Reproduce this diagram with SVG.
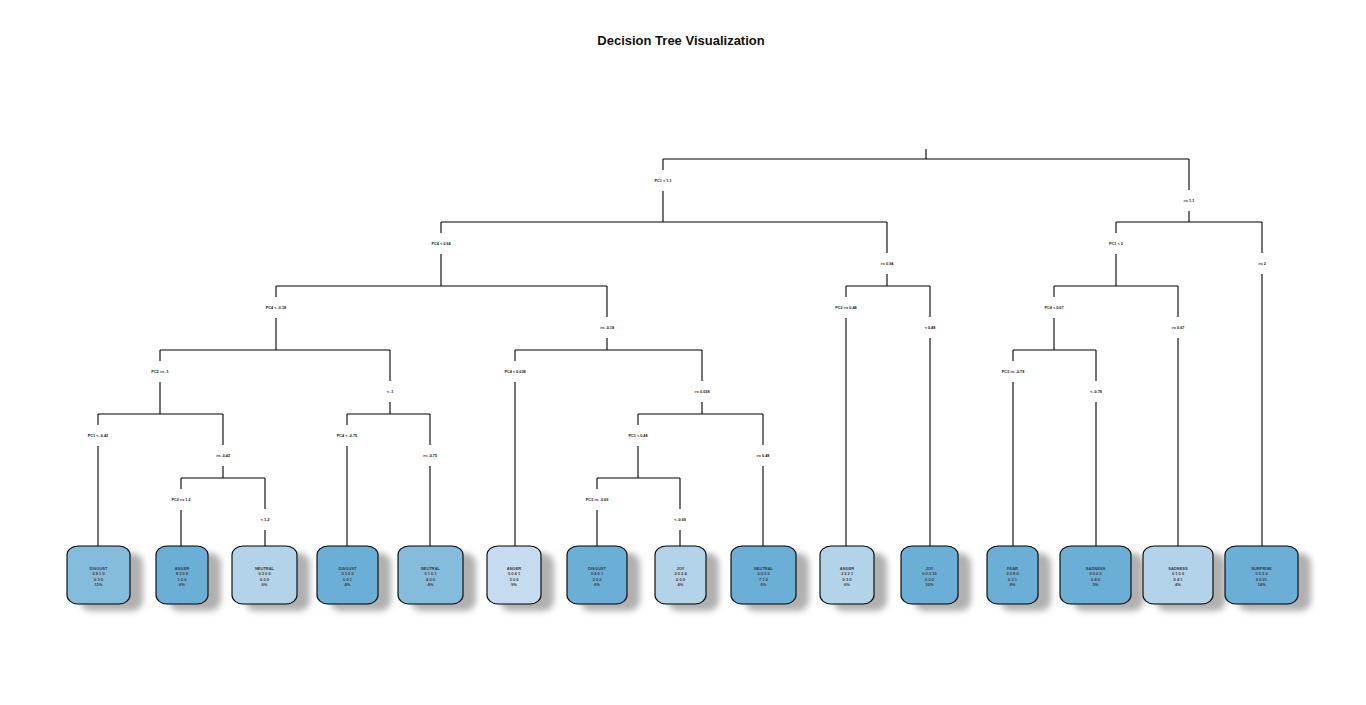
<svg xmlns="http://www.w3.org/2000/svg" width="1366" height="705" viewBox="0 0 1366 705">
<style>
.ln{stroke:#000;stroke-width:1.1;fill:none}
.sl{font-family:"Liberation Sans",Arial,sans-serif;font-size:3.8px;fill:#111;text-anchor:middle;font-weight:bold}
.lt{font-family:"Liberation Sans",Arial,sans-serif;font-size:4px;fill:#3a3a3a;text-anchor:middle;font-weight:bold}
.box{stroke:#000;stroke-width:1.1}
.sh{fill:#b0b0b0;filter:url(#blur)}
.c1{fill:#6baed6}.c2{fill:#85bcdc}.c3{fill:#b3d3e8}.c4{fill:#c6dbef}
.title{font-family:"Liberation Sans",Arial,sans-serif;font-size:13px;font-weight:bold;fill:#111;text-anchor:middle}
</style>
<defs><filter id="blur" x="-30%" y="-30%" width="160%" height="160%"><feGaussianBlur stdDeviation="3"/></filter></defs>
<rect width="1366" height="705" fill="#fff"/>
<text class="title" x="681" y="45">Decision Tree Visualization</text>
<g id="connectors">
<path class="ln" d="M926 149V159M663 159H1189
M663 159V170M663 191V222 M1189 159V190M1189 211V222
M441 222H887M1116 222H1262
M441 222V233M441 254V286 M887 222V253M887 274V286
M1116 222V233M1116 254V286 M1262 222V253M1262 274V546
M276 286H607M846 286H930M1054 286H1178
M276 286V297M276 318V350 M607 286V317M607 338V350
M846 286V297M846 318V546 M930 286V317M930 338V546
M1054 286V297M1054 318V350 M1178 286V317M1178 338V546
M160 350H390M515 350H702M1013 350H1096
M160 350V361M160 382V414 M390 350V381M390 402V414
M515 350V361M515 382V546 M702 350V381M702 402V414
M1013 350V361M1013 382V546 M1096 350V381M1096 402V546
M98 414H223M347 414H430M638 414H763
M98 414V425M98 446V546 M223 414V445M223 466V478
M347 414V425M347 446V546 M430 414V445M430 466V546
M638 414V425M638 446V478 M763 414V445M763 466V546
M181 478H265M597 478H680
M181 478V489M181 510V546 M265 478V509M265 530V546
M597 478V489M597 510V546 M680 478V509M680 530V546"/>
<text class="sl" x="663" y="182.4">PC1 &lt; 1.1</text>
<text class="sl" x="1189" y="202.4">&gt;= 1.1</text>
<text class="sl" x="441" y="245.4">PC4 &lt; 0.94</text>
<text class="sl" x="887" y="265.4">&gt;= 0.94</text>
<text class="sl" x="1116" y="245.4">PC1 &lt; 2</text>
<text class="sl" x="1262" y="265.4">&gt;= 2</text>
<text class="sl" x="276" y="309.4">PC4 &lt; -0.18</text>
<text class="sl" x="607" y="329.4">&gt;= -0.18</text>
<text class="sl" x="846" y="309.4">PC2 &gt;= 0.48</text>
<text class="sl" x="930" y="329.4">&lt; 0.48</text>
<text class="sl" x="1054" y="309.4">PC4 &lt; 0.67</text>
<text class="sl" x="1178" y="329.4">&gt;= 0.67</text>
<text class="sl" x="160" y="373.4">PC2 &gt;= -1</text>
<text class="sl" x="390" y="393.4">&lt; -1</text>
<text class="sl" x="515" y="373.4">PC4 &lt; 0.038</text>
<text class="sl" x="702" y="393.4">&gt;= 0.038</text>
<text class="sl" x="1013" y="373.4">PC3 &gt;= -0.78</text>
<text class="sl" x="1096" y="393.4">&lt; -0.78</text>
<text class="sl" x="98" y="437.4">PC1 &lt; -0.42</text>
<text class="sl" x="223" y="457.4">&gt;= -0.42</text>
<text class="sl" x="347" y="437.4">PC4 &lt; -0.75</text>
<text class="sl" x="430" y="457.4">&gt;= -0.75</text>
<text class="sl" x="638" y="437.4">PC1 &lt; 0.48</text>
<text class="sl" x="763" y="457.4">&gt;= 0.48</text>
<text class="sl" x="181" y="501.4">PC2 &gt;= 1.2</text>
<text class="sl" x="265" y="521.4">&lt; 1.2</text>
<text class="sl" x="597" y="501.4">PC3 &gt;= -0.69</text>
<text class="sl" x="680" y="521.4">&lt; -0.69</text>
</g>
<g id="leaf1"><rect class="sh" x="80" y="553" width="63" height="58" rx="11"/><rect class="box c2" x="67" y="546" width="63" height="58" rx="11" ry="9"/><text class="lt" x="98.5" y="569.8">DISGUST</text><text class="lt" x="98.5" y="575">6 8 1 0</text><text class="lt" x="98.5" y="580.6">0 3 0</text><text class="lt" x="98.5" y="585.6">11%</text></g>
<g id="leaf2"><rect class="sh" x="169" y="553" width="52" height="58" rx="11"/><rect class="box c1" x="156" y="546" width="52" height="58" rx="11" ry="9"/><text class="lt" x="182" y="569.8">ANGER</text><text class="lt" x="182" y="575">8 2 0 0</text><text class="lt" x="182" y="580.6">1 0 0</text><text class="lt" x="182" y="585.6">6%</text></g>
<g id="leaf3"><rect class="sh" x="245" y="553" width="65" height="58" rx="11"/><rect class="box c3" x="232" y="546" width="65" height="58" rx="11" ry="9"/><text class="lt" x="264.5" y="569.8">NEUTRAL</text><text class="lt" x="264.5" y="575">0 2 0 0</text><text class="lt" x="264.5" y="580.6">6 0 0</text><text class="lt" x="264.5" y="585.6">6%</text></g>
<g id="leaf4"><rect class="sh" x="330" y="553" width="61" height="58" rx="11"/><rect class="box c1" x="317" y="546" width="61" height="58" rx="11" ry="9"/><text class="lt" x="347.5" y="569.8">DISGUST</text><text class="lt" x="347.5" y="575">0 3 2 0</text><text class="lt" x="347.5" y="580.6">0 0 1</text><text class="lt" x="347.5" y="585.6">4%</text></g>
<g id="leaf5"><rect class="sh" x="411" y="553" width="65" height="58" rx="11"/><rect class="box c2" x="398" y="546" width="65" height="58" rx="11" ry="9"/><text class="lt" x="430.5" y="569.8">NEUTRAL</text><text class="lt" x="430.5" y="575">0 1 0 1</text><text class="lt" x="430.5" y="580.6">4 0 0</text><text class="lt" x="430.5" y="585.6">4%</text></g>
<g id="leaf6"><rect class="sh" x="500" y="553" width="54" height="58" rx="11"/><rect class="box c4" x="487" y="546" width="54" height="58" rx="11" ry="9"/><text class="lt" x="514" y="569.8">ANGER</text><text class="lt" x="514" y="575">5 0 4 1</text><text class="lt" x="514" y="580.6">3 0 0</text><text class="lt" x="514" y="585.6">9%</text></g>
<g id="leaf7"><rect class="sh" x="580" y="553" width="60" height="58" rx="11"/><rect class="box c1" x="567" y="546" width="60" height="58" rx="11" ry="9"/><text class="lt" x="597" y="569.8">DISGUST</text><text class="lt" x="597" y="575">0 4 0 1</text><text class="lt" x="597" y="580.6">3 0 0</text><text class="lt" x="597" y="585.6">6%</text></g>
<g id="leaf8"><rect class="sh" x="668" y="553" width="51" height="58" rx="11"/><rect class="box c3" x="655" y="546" width="51" height="58" rx="11" ry="9"/><text class="lt" x="680.5" y="569.8">JOY</text><text class="lt" x="680.5" y="575">0 0 2 4</text><text class="lt" x="680.5" y="580.6">0 0 0</text><text class="lt" x="680.5" y="585.6">4%</text></g>
<g id="leaf9"><rect class="sh" x="744" y="553" width="65" height="58" rx="11"/><rect class="box c1" x="731" y="546" width="65" height="58" rx="11" ry="9"/><text class="lt" x="763.5" y="569.8">NEUTRAL</text><text class="lt" x="763.5" y="575">0 0 3 0</text><text class="lt" x="763.5" y="580.6">7 1 0</text><text class="lt" x="763.5" y="585.6">6%</text></g>
<g id="leaf10"><rect class="sh" x="833" y="553" width="54" height="58" rx="11"/><rect class="box c3" x="820" y="546" width="54" height="58" rx="11" ry="9"/><text class="lt" x="847" y="569.8">ANGER</text><text class="lt" x="847" y="575">3 2 2 1</text><text class="lt" x="847" y="580.6">0 3 0</text><text class="lt" x="847" y="585.6">6%</text></g>
<g id="leaf11"><rect class="sh" x="914" y="553" width="57" height="58" rx="11"/><rect class="box c1" x="901" y="546" width="57" height="58" rx="11" ry="9"/><text class="lt" x="929.5" y="569.8">JOY</text><text class="lt" x="929.5" y="575">0 0 0 16</text><text class="lt" x="929.5" y="580.6">0 0 0</text><text class="lt" x="929.5" y="585.6">10%</text></g>
<g id="leaf12"><rect class="sh" x="1000" y="553" width="51" height="58" rx="11"/><rect class="box c1" x="987" y="546" width="51" height="58" rx="11" ry="9"/><text class="lt" x="1012.5" y="569.8">FEAR</text><text class="lt" x="1012.5" y="575">2 0 8 0</text><text class="lt" x="1012.5" y="580.6">0 3 1</text><text class="lt" x="1012.5" y="585.6">8%</text></g>
<g id="leaf13"><rect class="sh" x="1073" y="553" width="71" height="58" rx="11"/><rect class="box c1" x="1060" y="546" width="71" height="58" rx="11" ry="9"/><text class="lt" x="1095.5" y="569.8">SADNESS</text><text class="lt" x="1095.5" y="575">0 0 0 0</text><text class="lt" x="1095.5" y="580.6">0 8 0</text><text class="lt" x="1095.5" y="585.6">3%</text></g>
<g id="leaf14"><rect class="sh" x="1156" y="553" width="70" height="58" rx="11"/><rect class="box c3" x="1143" y="546" width="70" height="58" rx="11" ry="9"/><text class="lt" x="1178" y="569.8">SADNESS</text><text class="lt" x="1178" y="575">0 1 0 0</text><text class="lt" x="1178" y="580.6">0 4 1</text><text class="lt" x="1178" y="585.6">4%</text></g>
<g id="leaf15"><rect class="sh" x="1238" y="553" width="73" height="58" rx="11"/><rect class="box c1" x="1225" y="546" width="73" height="58" rx="11" ry="9"/><text class="lt" x="1261.5" y="569.8">SURPRISE</text><text class="lt" x="1261.5" y="575">0 0 3 0</text><text class="lt" x="1261.5" y="580.6">0 0 21</text><text class="lt" x="1261.5" y="585.6">14%</text></g>
</svg>
